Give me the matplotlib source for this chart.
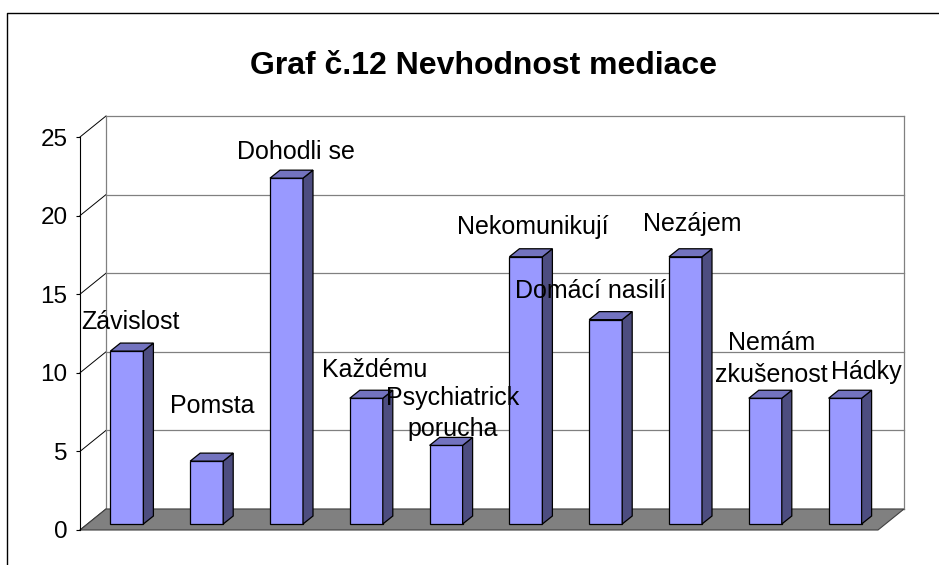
import matplotlib
matplotlib.use("Agg")
import matplotlib.pyplot as plt
import numpy as np
from matplotlib.lines import Line2D
from matplotlib.patches import Polygon

plt.rcParams["font.family"] = ["Liberation Sans", "DejaVu Sans"]

TITLE = "Graf č.12 Nevhodnost mediace"
CATEGORIES = ["Závislost", "Pomsta", "Dohodli se", "Každému", "Psychiatrick\nporucha",
              "Nekomunikují", "Domácí nasilí", "Nezájem", "Nemám\nzkušenost", "Hádky"]
VALUES = [11, 4, 22, 8, 5, 17, 13, 17, 8, 8]
Y_TICKS = [0, 5, 10, 15, 20, 25]

# where each data label sits relative to its bar top (pixels)
LABEL_NUDGE = [(-1, 29), (1, 55), (4, 26), (3, 28), (2, 32),
               (2, 30), (-20, 29), (2, 33), (1, 39), (16, 26)]

W, H, DPI = 939, 565, 100
FRONT, TOP, SIDE = "#9999ff", "#7373bf", "#4d4d80"
FLOOR, GRID = "#808080", "#808080"

fig = plt.figure(figsize=(W / DPI, H / DPI), dpi=DPI)
ax = fig.add_axes([80 / W, 35 / H, 798 / W, 393 / H])
n = len(VALUES)
ymax = Y_TICKS[-1]
ax.set_xlim(-0.5, n - 0.5)
ax.set_ylim(0, ymax)
ax.patch.set_visible(False)

px_x = 798 / n
px_y = 393 / ymax


def px(dx, dy):
    return dx / px_x, dy / px_y


wall_dx, wall_dy = px(26, 21)
bar_fx, bar_fy = px(7, 6)
bar_dx, bar_dy = px(10, 8)
bar_w = 33 / px_x

xl, xr = -0.5 + wall_dx, n - 0.5 + wall_dx

# back wall + side wall lines
for t in Y_TICKS:
    ax.plot([xl, xr], [t + wall_dy] * 2, color=GRID, lw=0.9, clip_on=False, zorder=1)
    ax.plot([-0.5, xl], [t, t + wall_dy], color="black", lw=0.7, clip_on=False, zorder=1)
for xv in (xl, xr):
    ax.plot([xv, xv], [wall_dy, ymax + wall_dy], color=GRID, lw=0.9, clip_on=False, zorder=1)

# floor
ax.add_patch(Polygon([(-0.5, 0), (n - 0.5, 0), (xr, wall_dy), (xl, wall_dy)],
                     closed=True, fc=FLOOR, ec="#404040", lw=0.8, clip_on=False, zorder=1.5))

# bars
x = np.arange(n)
ax.bar(x + bar_fx, VALUES, width=bar_w, bottom=bar_fy, color=FRONT,
       edgecolor="black", lw=0.9, zorder=3, clip_on=False)
for xi, v in zip(x, VALUES):
    left = xi + bar_fx - bar_w / 2
    right = xi + bar_fx + bar_w / 2
    top = v + bar_fy
    ax.add_patch(Polygon([(right, bar_fy), (right + bar_dx, bar_fy + bar_dy),
                          (right + bar_dx, top + bar_dy), (right, top)],
                         closed=True, fc=SIDE, ec="black", lw=0.9, clip_on=False, zorder=3))
    ax.add_patch(Polygon([(left, top), (right, top), (right + bar_dx, top + bar_dy),
                          (left + bar_dx, top + bar_dy)],
                         closed=True, fc=TOP, ec="black", lw=0.9, clip_on=False, zorder=3))

# data labels
for xi, v, cat, (ndx, ndy) in zip(x, VALUES, CATEGORIES, LABEL_NUDGE):
    ax.annotate(cat, xy=(xi + bar_fx + bar_dx / 2, v + bar_fy), xytext=(ndx, ndy),
                textcoords="offset pixels", ha="center", va="center", fontsize=18,
                linespacing=1.4, zorder=6, annotation_clip=False)

# axes styling
for side in ("top", "right", "bottom"):
    ax.spines[side].set_visible(False)
ax.spines["left"].set_color("black")
ax.spines["left"].set_linewidth(0.8)
ax.set_xticks([])
ax.set_yticks(Y_TICKS)
ax.tick_params(axis="y", length=3, width=0.8, labelsize=17.5, pad=6)

fig.text(483 / W, 1 - 66 / H, TITLE, ha="center", va="center", fontsize=23, fontweight="bold")

# outer chart frame (clipped at right and bottom)
fig.add_artist(Line2D([7 / W, 7 / W, 1], [0, 1 - 13 / H, 1 - 13 / H], color="black", lw=1.0,
                      transform=fig.transFigure))

fig.savefig("out.png", dpi=DPI)
